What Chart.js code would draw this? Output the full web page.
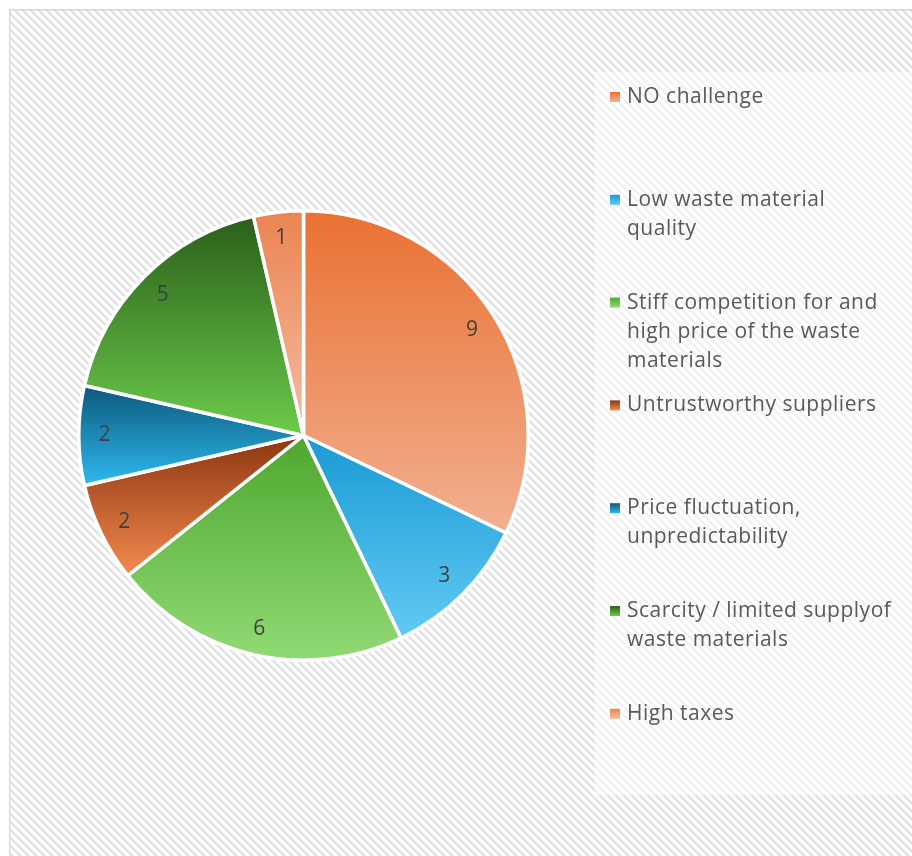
<!DOCTYPE html>
<html>
<head>
<meta charset="utf-8">
<script src="https://cdn.jsdelivr.net/npm/chart.js@4.4.1/dist/chart.umd.min.js"></script>
<style>
  html, body { margin: 0; padding: 0; background: #fff; }
  #wrap { position: relative; width: 912px; height: 856px; }
</style>
</head>
<body>
<div id="wrap"><canvas id="challengeChart"></canvas></div>
<script>
// Challenges named by respondents, number of mentions each
const categories = [
    ['NO challenge'],
    ['Low waste material', 'quality'],
    ['Stiff competition for and', 'high price of the waste', 'materials'],
    ['Untrustworthy suppliers'],
    ['Price fluctuation,', 'unpredictability'],
    ['Scarcity / limited supplyof', 'waste materials'],
    ['High taxes']
];
const counts = [9, 3, 6, 2, 2, 5, 1];

// each slice is shaded from a darker top to a lighter bottom
const topColors = ['#E97132', '#1A9AD4', '#4EA72E', '#8C3510', '#0D587B', '#2A5F1A', '#EB8452'];
const bottomColors = ['#F2B091', '#62CAF3', '#91DA75', '#F48A50', '#2DB9EE', '#6CCB4A', '#F5BDA2'];

const FONT = '"Open Sans", "Noto Sans", sans-serif';
const SLICE_BORDER = 3.5;

// vertical gradient spanning the bounding box of one slice
function sliceGradient(context) {
    const chart = context.chart;
    const area = chart.chartArea;
    const i = context.dataIndex;
    if (!area) return topColors[i];
    const cx = (area.left + area.right) / 2;
    const cy = (area.top + area.bottom) / 2;
    const r = (Math.min(area.width, area.height) - SLICE_BORDER) / 2;
    const total = counts.reduce((a, b) => a + b, 0);
    let before = 0;
    for (let k = 0; k < i; k++) before += counts[k];
    const a0 = -Math.PI / 2 + 2 * Math.PI * before / total;
    const a1 = a0 + 2 * Math.PI * counts[i] / total;
    const ys = [cy, cy + r * Math.sin(a0), cy + r * Math.sin(a1)];
    [-Math.PI / 2, Math.PI / 2, 3 * Math.PI / 2].forEach(t => {
        if (t > a0 && t < a1) ys.push(cy + r * Math.sin(t));
    });
    const g = chart.ctx.createLinearGradient(0, Math.min(...ys), 0, Math.max(...ys));
    g.addColorStop(0, topColors[i]);
    g.addColorStop(1, bottomColors[i]);
    return g;
}

// small tile of light diagonal hatching
function makeStripes() {
    const tile = document.createElement('canvas');
    tile.width = 8;
    tile.height = 8;
    const tctx = tile.getContext('2d');
    const shades = [255, 255, 252, 238, 224, 224, 238, 252];
    for (let y = 0; y < 8; y++) {
        for (let x = 0; x < 8; x++) {
            const v = shades[((x - y) % 8 + 8) % 8];
            tctx.fillStyle = `rgb(${v},${v},${v})`;
            tctx.fillRect(x, y, 1, 1);
        }
    }
    return tile;
}

const backdrop = {
    id: 'backdrop',
    beforeDraw(chart) {
        const ctx = chart.ctx;
        ctx.save();
        ctx.fillStyle = '#ffffff';
        ctx.fillRect(0, 0, chart.width, chart.height);
        ctx.fillStyle = ctx.createPattern(makeStripes(), 'repeat');
        ctx.fillRect(10, 10, chart.width - 10, chart.height - 10);
        ctx.strokeStyle = '#D9D9D9';
        ctx.lineWidth = 1.5;
        ctx.strokeRect(9.75, 9.75, chart.width + 10, chart.height + 10);
        // legend panel
        ctx.fillStyle = 'rgba(255,255,255,0.5)';
        ctx.fillRect(595, 72, 317, 723);
        ctx.restore();
    }
};

// value written inside each slice, near the rim
const sliceLabels = {
    id: 'sliceLabels',
    afterDatasetsDraw(chart) {
        const ctx = chart.ctx;
        const meta = chart.getDatasetMeta(0);
        ctx.save();
        ctx.font = `21px ${FONT}`;
        ctx.fillStyle = '#404040';
        ctx.textAlign = 'center';
        ctx.textBaseline = 'middle';
        meta.data.forEach((arc, i) => {
            const p = arc.getProps(['x', 'y', 'startAngle', 'endAngle', 'outerRadius'], true);
            const mid = (p.startAngle + p.endAngle) / 2;
            const d = p.outerRadius * 0.885;
            ctx.fillText(String(counts[i]), p.x + Math.cos(mid) * d, p.y + Math.sin(mid) * d);
        });
        ctx.restore();
    }
};

// legend on the right, one slot per category
const sideLegend = {
    id: 'sideLegend',
    afterDraw(chart) {
        const ctx = chart.ctx;
        const left = 610, firstY = 97, slot = 102.8, lineH = 29;
        ctx.save();
        ctx.font = `21px ${FONT}`;
        ctx.letterSpacing = '0.5px';
        ctx.textBaseline = 'middle';
        chart.data.labels.forEach((lines, i) => {
            const y = firstY + slot * i;
            const g = ctx.createLinearGradient(0, y - 5, 0, y + 5);
            g.addColorStop(0, topColors[i]);
            g.addColorStop(1, bottomColors[i]);
            ctx.fillStyle = g;
            ctx.fillRect(left, y - 5, 10, 10);
            ctx.fillStyle = '#595959';
            lines.forEach((line, j) => ctx.fillText(line, left + 17, y + j * lineH));
        });
        ctx.restore();
    }
};

new Chart(document.getElementById('challengeChart'), {
    type: 'pie',
    data: {
        labels: categories,
        datasets: [{
            data: counts,
            backgroundColor: sliceGradient,
            borderColor: '#ffffff',
            borderWidth: SLICE_BORDER
        }]
    },
    options: {
        responsive: true,
        maintainAspectRatio: false,
        animation: false,
        layout: {
            padding: { left: 77, top: 209, right: 382, bottom: 194 }
        },
        plugins: {
            legend: { display: false },
            tooltip: { enabled: false }
        }
    },
    plugins: [backdrop, sliceLabels, sideLegend]
});
</script>
</body>
</html>
